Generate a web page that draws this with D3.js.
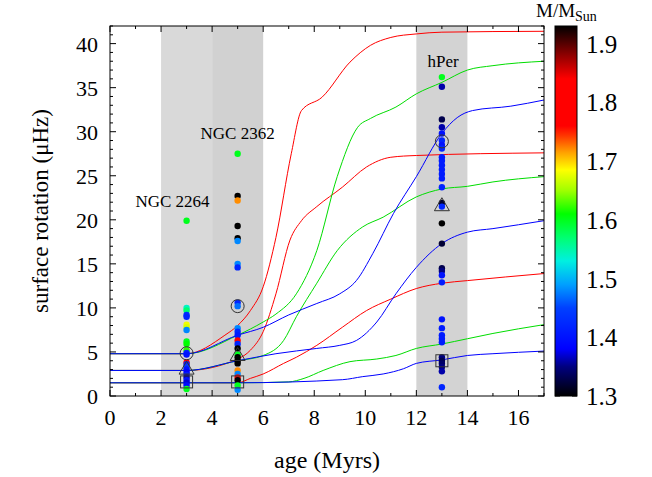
<!DOCTYPE html>
<html><head><meta charset="utf-8">
<script src="https://cdn.jsdelivr.net/npm/d3@7"></script>
<style>
body{margin:0;background:#fff;}
svg text{font-family:"Liberation Serif","Times New Roman",serif;fill:#000;}
</style></head>
<body><svg id="chart" width="652" height="477"></svg>
<script>
// ---------- data ----------
const xTicks = [0,2,4,6,8,10,12,14,16];
const yTicks = [0,5,10,15,20,25,30,35,40];
const cbTicks = [1.3,1.4,1.5,1.6,1.7,1.8,1.9];
const bandStart = [2, 4, 12];
const bandEnd   = [4, 6, 14];
const clusterNames = ["NGC 2264", "NGC 2362", "hPer"];
const clusterAges  = [3, 5, 13];
const labelAges    = [2.45, 5, 13.05];
const labelRot     = [21.4, 29.2, 37.4];

// model tracks (age Myr, surface rotation µHz)
const redFast   = [[0,4.8],[3,4.8],[4.5,6.9],[5,8.0],[5.5,9.7],[6,12.4],[6.5,18],[7.1,27.5],[7.5,32.4],[8.3,33.9],[9.4,37.9],[10.2,39.8],[11,40.7],[12,41.1],[13,41.3],[17,41.4]];
const greenFast = [[0,4.8],[3,4.8],[5,6.9],[6,8.4],[6.5,9.3],[7.3,11.6],[8.1,16.5],[8.9,24.9],[9.7,30.5],[10.2,31.5],[11.2,32.8],[12,34.3],[13,35.6],[14,37.0],[15,37.5],[17,38.0]];
const blueFast  = [[0,4.8],[3,4.8],[5,6.9],[6,7.8],[7,9.2],[8.1,10.5],[9,11.6],[9.65,13.1],[10.3,16.2],[11.1,20.7],[12,24.9],[13,29.8],[13.6,31.6],[14.2,32.4],[15.7,32.9],[17,33.6]];
const redMid    = [[0,2.9],[3,2.9],[5,4.2],[5.5,5.2],[6,7.3],[6.5,11.6],[7.05,17.7],[7.5,19.9],[8.1,21.5],[9.1,23.7],[10.05,26.0],[11,27.1],[12,27.3],[17,27.6]];
const greenMid  = [[0,2.9],[3,2.9],[5,4.0],[6,4.6],[6.8,6.3],[7.3,9.0],[8.1,12.8],[8.9,16.5],[9.9,19.2],[10.7,20.3],[12,22.6],[13,23.5],[14,23.8],[15,24.3],[17,24.9]];
const blueMid   = [[0,2.9],[3,2.9],[5,4.0],[6.5,4.8],[8.1,5.4],[9,5.75],[9.65,6.3],[10.45,8.4],[11.2,11.6],[12,14.6],[13,17.3],[14,18.6],[15,19.0],[17,19.9]];
const redSlow   = [[0,1.5],[3,1.5],[5,1.5],[5.5,2.0],[6,2.5],[6.8,3.7],[7.3,4.4],[8.1,5.75],[9.1,7.8],[10.05,9.7],[11,11.0],[12,12.2],[13,12.8],[14,13.1],[17,13.9]];
const greenSlow = [[0,1.5],[3,1.5],[5,1.5],[7,1.6],[7.6,2.0],[8.35,2.9],[9.4,3.9],[10.45,4.2],[11.2,4.6],[12,5.4],[13,5.9],[14,6.5],[15,7.1],[17,8.1]];
const blueSlow  = [[0,1.5],[3,1.5],[5,1.5],[9.1,1.85],[9.9,2.2],[10.7,2.5],[11.5,3.1],[12,3.7],[13,4.1],[14,4.6],[15,4.8],[17,5.1]];

// observed stars: rotation and mass per cluster
const ngc2264Rot  = [19.9,10.0,9.7,9.2,9.0,8.1,7.8,7.5,6.2,5.9,5.2,4.9,4.7,3.8,3.6,3.3,3.0,2.7,2.4,2.1,1.8,1.5,1.2,0.8];
const ngc2264Mass = [1.60,1.54,1.57,1.43,1.42,1.68,1.67,1.48,1.60,1.61,1.62,1.42,1.40,1.78,1.42,1.44,1.40,1.38,1.41,1.36,1.40,1.37,1.39,1.60];
const ngc2362Rot  = [27.5,22.7,22.2,19.3,17.9,17.6,15.0,14.6,10.6,10.2,7.7,7.3,6.9,6.3,5.9,5.4,4.7,4.4,4.0,3.7,2.9,2.5,2.1,1.8,1.2,0.7];
const ngc2362Mass = [1.60,1.30,1.72,1.30,1.30,1.48,1.48,1.42,1.42,1.47,1.48,1.42,1.41,1.80,1.42,1.30,1.60,1.30,1.30,1.30,1.72,1.48,1.80,1.30,1.60,1.48];
const hperRot  = [36.2,35.1,31.4,30.5,29.8,29.0,28.5,28.1,27.1,26.7,26.2,25.7,25.2,24.7,23.7,21.9,21.5,19.6,17.3,14.5,14.2,13.7,12.9,8.7,7.7,6.9,6.5,6.1,4.4,4.0,3.7,3.3,2.8,1.0];
const hperMass = [1.60,1.36,1.33,1.36,1.40,1.42,1.40,1.42,1.41,1.41,1.41,1.41,1.41,1.41,1.42,1.32,1.42,1.30,1.32,1.33,1.35,1.40,1.41,1.40,1.41,1.41,1.41,1.41,1.35,1.33,1.34,1.35,1.36,1.42];

// model reference markers at each cluster age
const circleRot   = [4.85, 10.2, 28.9];
const triangleRot = [3.05, 4.6, 21.6];
const squareRot   = [1.6, 1.6, 4.0];

// palette (mass -> colour), colour range 1.3 .. 1.93
const cbRange  = [1.3, 1.93];
const palMass  = [1.30,1.35,1.38,1.45,1.49,1.53,1.57,1.61,1.65,1.685,1.715,1.745,1.76,1.84,1.88,1.93];
const palColor = ["#000000","#000080","#0000ff","#0040ff","#00a0ff","#00f0e0","#00ff70","#00ff00","#a0ff00","#ffff00","#ffa000","#ff3000","#ff0000","#ff0000","#900000","#000000"];

// ---------- drawing ----------
const svg = d3.select("#chart");
const FONT = "Liberation Serif, Times New Roman, serif";
const L = 110, R = 544, T = 26, B = 396;
const x = d3.scaleLinear().domain([0,17]).range([L,R]);
const y = d3.scaleLinear().domain([0,42]).range([B,T]);
const col = d3.scaleLinear().domain(palMass).range(palColor).interpolate(d3.interpolateRgb).clamp(true);

const defs = svg.append("defs");
defs.append("clipPath").attr("id","clip")
  .append("rect").attr("x",L).attr("y",T).attr("width",R-L).attr("height",B-T);

// bands
const bandFill = ["#d9d9d9","#d1d1d1","#d3d3d3"];
bandStart.forEach((s,i)=>{
  svg.append("rect").attr("x",x(s)).attr("y",T).attr("width",x(bandEnd[i])-x(s)).attr("height",B-T).attr("fill",bandFill[i]);
});

// curves
const line = d3.line().x(d=>x(d[0])).y(d=>y(d[1])).curve(d3.curveMonotoneX);
const curves = [[redFast,"#ff0000"],[redMid,"#ff0000"],[redSlow,"#ff0000"],
                [greenFast,"#00dd00"],[greenMid,"#00dd00"],[greenSlow,"#00dd00"],
                [blueFast,"#0000ff"],[blueMid,"#0000ff"],[blueSlow,"#0000ff"]];
const cg = svg.append("g").attr("clip-path","url(#clip)");
curves.forEach(([data,c])=>{
  cg.append("path").attr("d",line(data)).attr("fill","none").attr("stroke",c).attr("stroke-width",1);
});

// points
const clusters = [[ngc2264Rot,ngc2264Mass],[ngc2362Rot,ngc2362Mass],[hperRot,hperMass]];
clusters.forEach(([rot,mass],ci)=>{
  svg.append("g").selectAll("circle").data(rot).join("circle")
    .attr("cx",x(clusterAges[ci])).attr("cy",d=>y(d)).attr("r",3.2)
    .attr("fill",(d,i)=>col(mass[i]));
});

// markers
const mk = svg.append("g").attr("fill","none").attr("stroke","#333").attr("stroke-width",1);
clusterAges.forEach((a,i)=>{
  const cx = x(a);
  mk.append("circle").attr("cx",cx).attr("cy",y(circleRot[i])).attr("r",6.5);
  const ty = y(triangleRot[i]);
  mk.append("path").attr("d",`M${cx},${ty-8}L${cx+7.5},${ty+5}L${cx-7.5},${ty+5}Z`);
  const sy = y(squareRot[i]);
  mk.append("rect").attr("x",cx-6).attr("y",sy-6).attr("width",12).attr("height",12);
});

// cluster labels
clusterNames.forEach((n,i)=>{
  svg.append("text").attr("x",x(labelAges[i])).attr("y",y(labelRot[i]))
    .attr("font-family",FONT).attr("text-anchor","middle").attr("font-size",17).text(n);
});

// frame and ticks
svg.append("rect").attr("x",L).attr("y",T).attr("width",R-L).attr("height",B-T)
  .attr("fill","none").attr("stroke","#000").attr("stroke-width",1);
const tk = svg.append("g").attr("stroke","#000").attr("stroke-width",1);
d3.range(0,18,1).forEach(v=>{
  const len = v%2===0 ? 6 : 3;
  tk.append("line").attr("x1",x(v)).attr("x2",x(v)).attr("y1",B).attr("y2",B-len);
  tk.append("line").attr("x1",x(v)).attr("x2",x(v)).attr("y1",T).attr("y2",T+len);
});
d3.range(0,43,1).forEach(v=>{
  const len = v%5===0 ? 6 : 3;
  tk.append("line").attr("y1",y(v)).attr("y2",y(v)).attr("x1",L).attr("x2",L+len);
  tk.append("line").attr("y1",y(v)).attr("y2",y(v)).attr("x1",R).attr("x2",R-len);
});
xTicks.forEach(v=>{
  svg.append("text").attr("x",x(v)).attr("y",B+29).attr("font-family",FONT).attr("text-anchor","middle").attr("font-size",22).text(v);
});
yTicks.forEach(v=>{
  svg.append("text").attr("x",L-12).attr("y",y(v)+8).attr("font-family",FONT).attr("text-anchor","end").attr("font-size",22).text(v);
});

// axis labels
svg.append("text").attr("x",(L+R)/2).attr("y",468).attr("font-family",FONT).attr("text-anchor","middle").attr("font-size",24).text("age (Myrs)");
svg.append("text").attr("transform",`translate(48,${(T+B)/2}) rotate(-90)`).attr("font-family",FONT).attr("text-anchor","middle").attr("font-size",23).text("surface rotation (μHz)");

// colorbar
const cbX = 555, cbW = 22;
const cy = d3.scaleLinear().domain(cbRange).range([B,T]);
const grad = defs.append("linearGradient").attr("id","cbgrad")
  .attr("x1",0).attr("y1",1).attr("x2",0).attr("y2",0);
palMass.forEach((m,i)=>{
  grad.append("stop").attr("offset",(m-cbRange[0])/(cbRange[1]-cbRange[0])).attr("stop-color",palColor[i]);
});
svg.append("rect").attr("x",cbX).attr("y",T).attr("width",cbW).attr("height",B-T)
  .attr("fill","url(#cbgrad)").attr("stroke","#000").attr("stroke-width",1);
cbTicks.forEach(v=>{
  tk.append("line").attr("x1",cbX).attr("x2",cbX+5).attr("y1",cy(v)).attr("y2",cy(v));
  tk.append("line").attr("x1",cbX+cbW-5).attr("x2",cbX+cbW).attr("y1",cy(v)).attr("y2",cy(v));
  svg.append("text").attr("x",cbX+cbW+9).attr("y",cy(v)+9).attr("font-family",FONT).attr("font-size",25).text(v.toFixed(1));
});
const ttl = svg.append("text").attr("x",536).attr("y",17).attr("font-family",FONT).attr("font-size",19);
ttl.append("tspan").text("M/M");
ttl.append("tspan").attr("dy",4).attr("font-size",14).text("Sun");
</script></body></html>
